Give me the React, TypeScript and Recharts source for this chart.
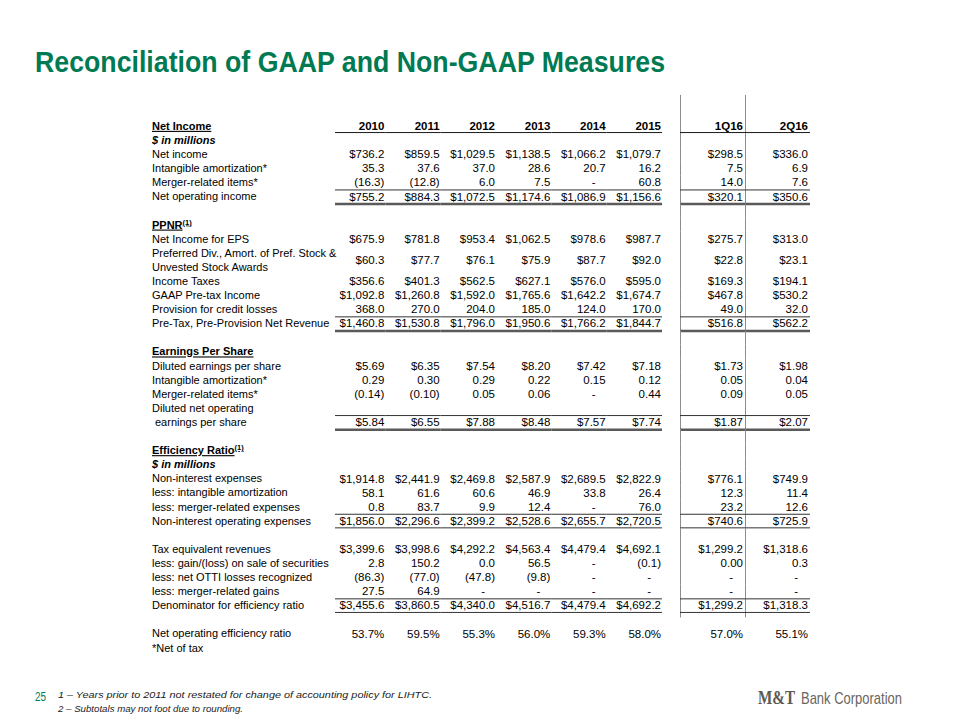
import React from 'react';
import { ScatterChart, Scatter, XAxis, YAxis } from 'recharts';

// ---------- categories ----------
const years = ['2010', '2011', '2012', '2013', '2014', '2015'];
const quarters = ['1Q16', '2Q16'];
const columnHeaders = [...years, ...quarters];

// ---------- values (2010..2015, 1Q16, 2Q16) ----------
const netIncome = ['$736.2', '$859.5', '$1,029.5', '$1,138.5', '$1,066.2', '$1,079.7', '$298.5', '$336.0'];
const intangibleAmortization = ['35.3', '37.6', '37.0', '28.6', '20.7', '16.2', '7.5', '6.9'];
const mergerRelatedItems = ['(16.3)', '(12.8)', '6.0', '7.5', '-', '60.8', '14.0', '7.6'];
const netOperatingIncome = ['$755.2', '$884.3', '$1,072.5', '$1,174.6', '$1,086.9', '$1,156.6', '$320.1', '$350.6'];

const netIncomeForEps = ['$675.9', '$781.8', '$953.4', '$1,062.5', '$978.6', '$987.7', '$275.7', '$313.0'];
const preferredDividends = ['$60.3', '$77.7', '$76.1', '$75.9', '$87.7', '$92.0', '$22.8', '$23.1'];
const incomeTaxes = ['$356.6', '$401.3', '$562.5', '$627.1', '$576.0', '$595.0', '$169.3', '$194.1'];
const gaapPretaxIncome = ['$1,092.8', '$1,260.8', '$1,592.0', '$1,765.6', '$1,642.2', '$1,674.7', '$467.8', '$530.2'];
const provisionForCreditLosses = ['368.0', '270.0', '204.0', '185.0', '124.0', '170.0', '49.0', '32.0'];
const ppnr = ['$1,460.8', '$1,530.8', '$1,796.0', '$1,950.6', '$1,766.2', '$1,844.7', '$516.8', '$562.2'];

const dilutedEps = ['$5.69', '$6.35', '$7.54', '$8.20', '$7.42', '$7.18', '$1.73', '$1.98'];
const epsIntangible = ['0.29', '0.30', '0.29', '0.22', '0.15', '0.12', '0.05', '0.04'];
const epsMerger = ['(0.14)', '(0.10)', '0.05', '0.06', '-', '0.44', '0.09', '0.05'];
const dilutedNetOperatingEps = ['$5.84', '$6.55', '$7.88', '$8.48', '$7.57', '$7.74', '$1.87', '$2.07'];

const nonInterestExpenses = ['$1,914.8', '$2,441.9', '$2,469.8', '$2,587.9', '$2,689.5', '$2,822.9', '$776.1', '$749.9'];
const lessIntangibleAmortization = ['58.1', '61.6', '60.6', '46.9', '33.8', '26.4', '12.3', '11.4'];
const lessMergerExpenses = ['0.8', '83.7', '9.9', '12.4', '-', '76.0', '23.2', '12.6'];
const nonInterestOperatingExpenses = ['$1,856.0', '$2,296.6', '$2,399.2', '$2,528.6', '$2,655.7', '$2,720.5', '$740.6', '$725.9'];
const taxEquivalentRevenues = ['$3,399.6', '$3,998.6', '$4,292.2', '$4,563.4', '$4,479.4', '$4,692.1', '$1,299.2', '$1,318.6'];
const lessSecuritiesGains = ['2.8', '150.2', '0.0', '56.5', '-', '(0.1)', '0.00', '0.3'];
const lessOttiLosses = ['(86.3)', '(77.0)', '(47.8)', '(9.8)', '-', '-', '-', '-'];
const lessMergerGains = ['27.5', '64.9', '-', '-', '-', '-', '-', '-'];
const efficiencyDenominator = ['$3,455.6', '$3,860.5', '$4,340.0', '$4,516.7', '$4,479.4', '$4,692.2', '$1,299.2', '$1,318.3'];
const netOperatingEfficiencyRatio = ['53.7%', '59.5%', '55.3%', '56.0%', '59.3%', '58.0%', '57.0%', '55.1%'];

// ---------- row labels ----------
type Row = { id: string; label: string; values?: string[] };
const rows: Row[] = [
  { id: 'hdr', label: 'Net Income', values: columnHeaders },
  { id: 'mil1', label: '$ in millions' },
  { id: 'ni', label: 'Net income', values: netIncome },
  { id: 'ia1', label: 'Intangible amortization*', values: intangibleAmortization },
  { id: 'mr1', label: 'Merger-related items*', values: mergerRelatedItems },
  { id: 'noi', label: 'Net operating income', values: netOperatingIncome },
  { id: 'g1', label: '' },
  { id: 'ppnrHdr', label: 'PPNR' },
  { id: 'nieps', label: 'Net Income for EPS', values: netIncomeForEps },
  { id: 'pref1', label: 'Preferred Div., Amort. of Pref. Stock &', values: preferredDividends },
  { id: 'pref2', label: 'Unvested Stock Awards' },
  { id: 'tax', label: 'Income Taxes', values: incomeTaxes },
  { id: 'gaap', label: 'GAAP Pre-tax Income', values: gaapPretaxIncome },
  { id: 'prov', label: 'Provision for credit losses', values: provisionForCreditLosses },
  { id: 'ppnr', label: 'Pre-Tax, Pre-Provision Net Revenue', values: ppnr },
  { id: 'g2', label: '' },
  { id: 'epsHdr', label: 'Earnings Per Share' },
  { id: 'deps', label: 'Diluted earnings per share', values: dilutedEps },
  { id: 'ia2', label: 'Intangible amortization*', values: epsIntangible },
  { id: 'mr2', label: 'Merger-related items*', values: epsMerger },
  { id: 'dno1', label: 'Diluted net operating' },
  { id: 'dno2', label: 'earnings per share', values: dilutedNetOperatingEps },
  { id: 'g3', label: '' },
  { id: 'effHdr', label: 'Efficiency Ratio' },
  { id: 'mil2', label: '$ in millions' },
  { id: 'nie', label: 'Non-interest expenses', values: nonInterestExpenses },
  { id: 'lia', label: 'less: intangible amortization', values: lessIntangibleAmortization },
  { id: 'lme', label: 'less: merger-related expenses', values: lessMergerExpenses },
  { id: 'nioe', label: 'Non-interest operating expenses', values: nonInterestOperatingExpenses },
  { id: 'g4', label: '' },
  { id: 'ter', label: 'Tax equivalent revenues', values: taxEquivalentRevenues },
  { id: 'lgl', label: 'less: gain/(loss) on sale of securities', values: lessSecuritiesGains },
  { id: 'lotti', label: 'less: net OTTI losses recognized', values: lessOttiLosses },
  { id: 'lmg', label: 'less: merger-related gains', values: lessMergerGains },
  { id: 'den', label: 'Denominator for efficiency ratio', values: efficiencyDenominator },
  { id: 'g5', label: '' },
  { id: 'noer', label: 'Net operating efficiency ratio', values: netOperatingEfficiencyRatio },
  { id: 'net', label: '*Net of tax' },
];

// ---------- styling (kept apart from the data) ----------
const SECTION_ROWS = new Set(['hdr', 'ppnrHdr', 'epsHdr', 'effHdr']);
const SUPERSCRIPT: Record<string, string> = { ppnrHdr: '(1)', effHdr: '(1)' };
const ITALIC_ROWS = new Set(['mil1', 'mil2']);
const INDENT_ROWS = new Set(['dno2']);
const DOUBLE_RULE_ROWS = new Set(['noi', 'ppnr', 'dno2']);
const SINGLE_RULE_ROWS = new Set(['nioe', 'den']);
const SPAN_NEXT_ROWS = new Set(['pref1']);
const LAST_DIVIDER_ROW = 'den';

const W = 960;
const H = 720;
const FONT = '"Liberation Sans", Arial, Helvetica, sans-serif';
const GREEN = '#007a53';
const LABEL_FS = 11;
const VALUE_FS = 11.5;
const LABEL_LEFT = 152;
const ANNUAL_LEFT = 330;
const ANNUAL_RIGHT = 662;
const FIRST_RULE_INSET = 5;
const QUARTER_LEFT = 680;
const QUARTER_RIGHT = 810;
const ROW_STEP = 14.1;
const FIRST_ROW_Y = 126;
const PLOT_TOP = FIRST_ROW_Y - ROW_STEP / 2;
const PLOT_BOTTOM = PLOT_TOP + ROW_STEP * rows.length;
const HALF_ROW = ROW_STEP / 2;
const ANNUAL_HALF = (ANNUAL_RIGHT - ANNUAL_LEFT) / years.length / 2;
const QUARTER_HALF = (QUARTER_RIGHT - QUARTER_LEFT) / quarters.length / 2;

const rowIndex: Record<string, number> = {};
rows.forEach((r, i) => (rowIndex[r.id] = i));

const annualCells = rows.flatMap((r) =>
  years.map((c, i) => ({ col: c, row: r.id, text: r.values ? r.values[i] : '' }))
);
const quarterCells = rows.flatMap((r) =>
  quarters.map((c, i) => ({ col: c, row: r.id, text: r.values ? r.values[years.length + i] : '' }))
);

function makeCellShape(half: number, rightPad: number, dividers: boolean, firstCol: string | null) {
  return (props: any) => {
    const { cx, cy } = props;
    const p = props.payload ?? props;
    const id: string = p.row;
    const text: string = p.text;
    if (cx == null || cy == null) return <g />;
    const left = cx - half;
    const ruleLeft = firstCol && p.col === firstCol ? left + FIRST_RULE_INSET : left;
    const right = cx + half;
    const top = cy - HALF_ROW;
    const bottom = cy + HALF_ROW;
    const idx = rowIndex[id];
    const els: React.ReactNode[] = [];
    if (dividers && idx <= rowIndex[LAST_DIVIDER_ROW]) {
      const y1 = idx === 0 ? top - 24 : top;
      const y2 = id === LAST_DIVIDER_ROW ? bottom + 5 : bottom;
      els.push(<line key="v" x1={Math.round(left) + 0.5} x2={Math.round(left) + 0.5} y1={y1} y2={y2} stroke="#8c8c8c" strokeWidth={1} />);
    }
    if (id === 'hdr') {
      els.push(<line key="hu" x1={ruleLeft} x2={right} y1={bottom - 0.5} y2={bottom - 0.5} stroke="#1a1a1a" strokeWidth={1} />);
    }
    if (DOUBLE_RULE_ROWS.has(id) || SINGLE_RULE_ROWS.has(id)) {
      els.push(<line key="t" x1={ruleLeft} x2={right} y1={top + 0.5} y2={top + 0.5} stroke="#333" strokeWidth={1} />);
      if (DOUBLE_RULE_ROWS.has(id)) {
        els.push(<line key="b" x1={ruleLeft} x2={right} y1={bottom + 0.5} y2={bottom + 0.5} stroke="#5a5a5a" strokeWidth={2.5} />);
      } else {
        els.push(<line key="b" x1={ruleLeft} x2={right} y1={bottom} y2={bottom} stroke="#333" strokeWidth={1} />);
      }
    }
    if (text) {
      const isDash = text === '-';
      const ty = SPAN_NEXT_ROWS.has(id) ? cy + HALF_ROW : cy;
      els.push(
        <text
          key="txt"
          x={right - rightPad - (isDash ? 10 : 0)}
          y={ty}
          dy="0.35em"
          textAnchor="end"
          fontFamily={FONT}
          fontSize={VALUE_FS}
          fontWeight={id === 'hdr' ? 700 : 400}
          fill="#000"
        >
          {text}
        </text>
      );
    }
    return <g>{els}</g>;
  };
}

function LabelTick(props: any) {
  const { x, y, payload } = props;
  const r = rows[rowIndex[payload.value]];
  if (!r || !r.label) return <g />;
  const section = SECTION_ROWS.has(r.id);
  const italic = ITALIC_ROWS.has(r.id);
  return (
    <text
      x={x + (INDENT_ROWS.has(r.id) ? 3 : 0)}
      y={y}
      dy="0.35em"
      textAnchor="start"
      fontFamily={FONT}
      fontSize={LABEL_FS}
      fontWeight={section || italic ? 700 : 400}
      fontStyle={italic ? 'italic' : 'normal'}
      textDecoration={section ? 'underline' : undefined}
      fill="#000"
    >
      {r.label}
      {SUPERSCRIPT[r.id] ? (
        <tspan fontSize={7.5} dy={-4}>
          {SUPERSCRIPT[r.id]}
        </tspan>
      ) : null}
    </text>
  );
}

export default function App() {
  return (
    <div style={{ position: 'absolute', left: 0, top: 0, width: W, height: H, background: '#fff' }}>
      <ScatterChart
        width={W}
        height={H}
        margin={{ top: PLOT_TOP, bottom: H - PLOT_BOTTOM, left: 0, right: W - QUARTER_RIGHT }}
      >
        <XAxis
          xAxisId="annual"
          type="category"
          scale="band"
          dataKey="col"
          allowDuplicatedCategory={false}
          padding={{ left: ANNUAL_LEFT - LABEL_LEFT, right: QUARTER_RIGHT - ANNUAL_RIGHT }}
          hide
        />
        <XAxis
          xAxisId="quarter"
          type="category"
          scale="band"
          dataKey="col"
          allowDuplicatedCategory={false}
          padding={{ left: QUARTER_LEFT - LABEL_LEFT, right: 0 }}
          hide
        />
        <YAxis
          yAxisId="rows"
          type="category"
          scale="band"
          dataKey="row"
          allowDuplicatedCategory={false}
          reversed
          width={LABEL_LEFT}
          interval={0}
          axisLine={false}
          tickLine={false}
          tickSize={0}
          tickMargin={0}
          tick={<LabelTick />}
        />
        <Scatter
          data={annualCells}
          xAxisId="annual"
          yAxisId="rows"
          isAnimationActive={false}
          shape={makeCellShape(ANNUAL_HALF, 1, false, years[0])}
        />
        <Scatter
          data={quarterCells}
          xAxisId="quarter"
          yAxisId="rows"
          isAnimationActive={false}
          shape={makeCellShape(QUARTER_HALF, 2, true, null)}
        />
      </ScatterChart>
      <svg width={W} height={H} style={{ position: 'absolute', left: 0, top: 0, pointerEvents: 'none' }}>
        <text x={35} y={72} fontFamily={FONT} fontWeight={700} fontSize={29} fill={GREEN} textLength={630} lengthAdjust="spacingAndGlyphs">
          Reconciliation of GAAP and Non-GAAP Measures
        </text>
        <text x={35} y={701} fontFamily={FONT} fontSize={12} fill={GREEN} textLength={11} lengthAdjust="spacingAndGlyphs">
          25
        </text>
        <text x={58} y={698} fontFamily={FONT} fontSize={9.5} fontStyle="italic" fill="#222" textLength={374} lengthAdjust="spacingAndGlyphs">
          1 – Years prior to 2011 not restated for change of accounting policy for LIHTC.
        </text>
        <text x={58} y={712} fontFamily={FONT} fontSize={9.5} fontStyle="italic" fill="#222" textLength={185} lengthAdjust="spacingAndGlyphs">
          2 – Subtotals may not foot due to rounding.
        </text>
        <text x={758} y={704} fontFamily='"Liberation Serif", "Times New Roman", serif' fontWeight={700} fontSize={18} fill="#5e5953" textLength={37} lengthAdjust="spacingAndGlyphs">
          M&amp;T
        </text>
        <text x={801} y={704} fontFamily={FONT} fontSize={17} fill="#6a6560" textLength={101} lengthAdjust="spacingAndGlyphs">
          Bank Corporation
        </text>
      </svg>
    </div>
  );
}
